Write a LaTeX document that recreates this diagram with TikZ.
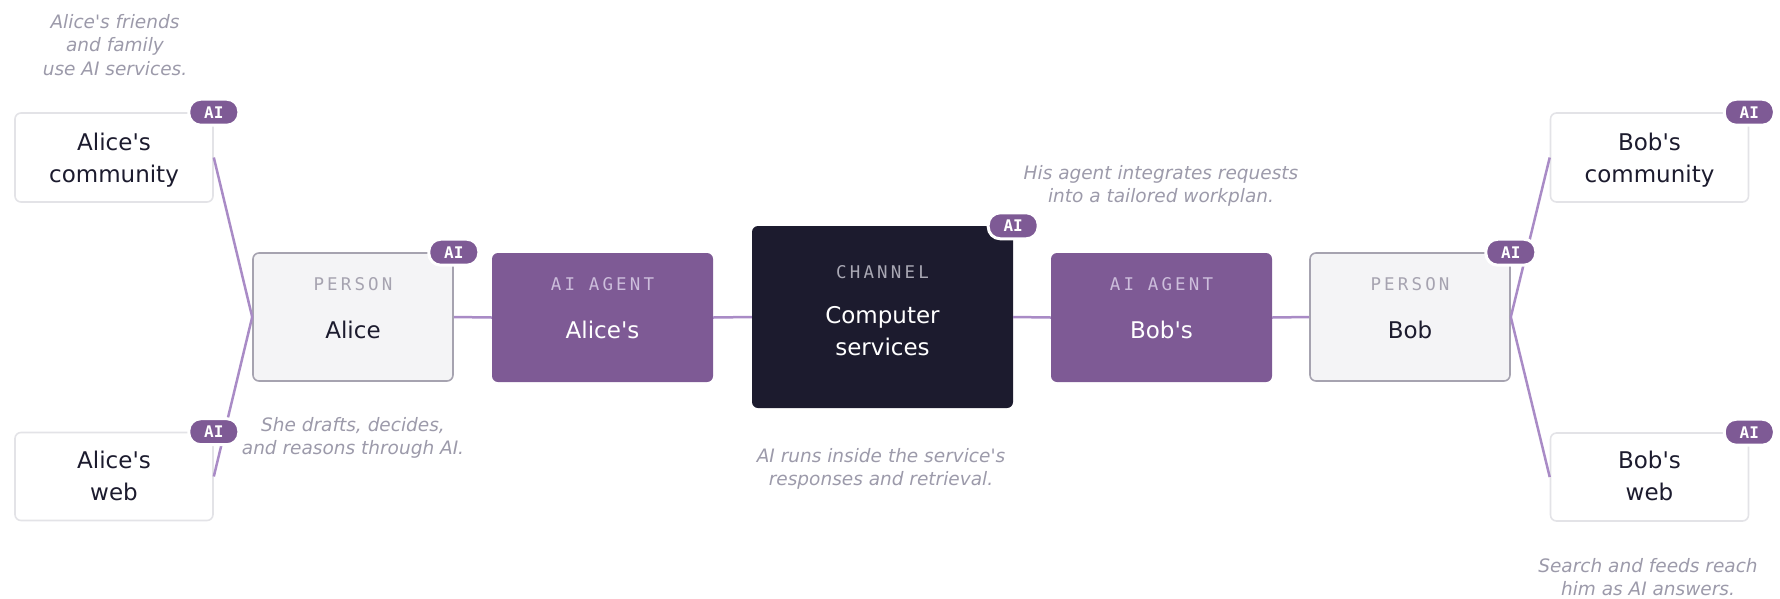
\documentclass[tikz,border=0pt]{standalone}
\usepackage{fontspec}
\setmainfont{DejaVu Sans}[Ligatures=TeXOff]
\newfontfamily\tagfont[LetterSpace=18]{DejaVu Sans Mono}
\newfontfamily\badgefont{DejaVu Sans Mono}
\usetikzlibrary{calc}

\definecolor{agentpurple}{HTML}{7E5A95}
\definecolor{linkpurple}{HTML}{A98BC6}
\definecolor{channeldark}{HTML}{1C1B2E}
\definecolor{personfill}{HTML}{F4F4F6}
\definecolor{persongray}{HTML}{A6A3B0}
\definecolor{edgegray}{HTML}{E3E3E7}
\definecolor{notegray}{HTML}{9C9AAA}
\definecolor{inkdark}{HTML}{1C1B2E}
\definecolor{agenttag}{HTML}{CDBEDC}
\definecolor{channeltag}{HTML}{A9A8B4}

\begin{document}
\begin{tikzpicture}[x=1pt,y=-1pt]
\tikzstyle{box} = [rectangle, rounded corners=6pt, inner sep=0pt, minimum width=200pt, minimum height=128pt]
\tikzstyle{personbox} = [box, fill=personfill, draw=persongray, line width=1.6pt]
\tikzstyle{agentbox} = [box, fill=agentpurple, minimum width=221pt, minimum height=129pt]
\tikzstyle{channelbox} = [box, fill=channeldark, minimum width=261pt, minimum height=182pt]
\tikzstyle{sidebox} = [box, fill=white, draw=edgegray, line width=1.6pt, minimum width=198pt, minimum height=88pt]
\tikzstyle{boxtag} = [anchor=base, font=\tagfont\fontsize{17.5}{20}\selectfont]
\tikzstyle{boxname} = [anchor=base, text=inkdark, font=\fontsize{23}{32}\selectfont]
\tikzstyle{sidenote} = [align=center, text=notegray, font=\itshape\fontsize{18.5}{23.5}\selectfont]
\tikzstyle{badge} = [rectangle, rounded corners=12pt, fill=agentpurple, draw=white, line width=3pt,
    minimum width=50pt, minimum height=26pt, inner sep=0pt, text=white,
    font=\badgefont\bfseries\fontsize{16}{16}\selectfont]
\tikzstyle{link} = [draw=linkpurple, line width=2.5pt]

\useasboundingbox (0,0) rectangle (1780,598);

% boxes
\node[sidebox, minimum height=89pt] (acom) at (114,157.5) {};
\node[sidebox] (aweb) at (114,476.5) {};
\node[personbox] (alice) at (353,317) {};
\node[agentbox] (aagent) at (602.5,317.5) {};
\node[channelbox] (chan) at (882.5,317) {};
\node[agentbox] (bagent) at (1161.5,317.5) {};
\node[personbox] (bob) at (1410,317) {};
\node[sidebox, minimum height=89pt] (bcom) at (1649.5,157.5) {};
\node[sidebox] (bweb) at (1649.5,477) {};

% links
\draw[link] (alice.west) -- (acom.east);
\draw[link] (alice.west) -- (aweb.east);
\draw[link] (alice.east) -- (aagent.west);
\draw[link] (aagent.east) -- (chan.west);
\draw[link] (chan.east) -- (bagent.west);
\draw[link] (bagent.east) -- (bob.west);
\draw[link] (bob.east) -- (bcom.west);
\draw[link] (bob.east) -- (bweb.west);

% box texts
\node[boxname] (acom1) at ($(acom.center)+(0,-7.5)$) {Alice's};
\node[boxname] (acom2) at ($(acom.center)+(0,24.5)$) {community};
\node[boxname] (aweb1) at ($(aweb.center)+(0,-8.5)$) {Alice's};
\node[boxname] (aweb2) at ($(aweb.center)+(0,23.5)$) {web};

\node[boxtag, text=persongray] (alicetag) at ($(alice.center)+(0,-27)$) {PERSON};
\node[boxname] (alicename) at ($(alice.center)+(0,21)$) {Alice};
\node[boxtag, text=agenttag] (aagenttag) at ($(aagent.center)+(0,-27.5)$) {AI AGENT};
\node[boxname, text=white] (aagentname) at ($(aagent.center)+(0,20.5)$) {Alice's};

\node[boxtag, text=channeltag] (chantag) at ($(chan.center)+(0,-39)$) {CHANNEL};
\node[boxname, text=white] (chan1) at ($(chan.center)+(0,6)$) {Computer};
\node[boxname, text=white] (chan2) at ($(chan.center)+(0,38)$) {services};

\node[boxtag, text=agenttag] (bagenttag) at ($(bagent.center)+(0,-27.5)$) {AI AGENT};
\node[boxname, text=white] (bagentname) at ($(bagent.center)+(0,20.5)$) {Bob's};
\node[boxtag, text=persongray] (bobtag) at ($(bob.center)+(0,-27)$) {PERSON};
\node[boxname] (bobname) at ($(bob.center)+(0,21)$) {Bob};

\node[boxname] (bcom1) at ($(bcom.center)+(0,-7.5)$) {Bob's};
\node[boxname] (bcom2) at ($(bcom.center)+(0,24.5)$) {community};
\node[boxname] (bweb1) at ($(bweb.center)+(0,-8.5)$) {Bob's};
\node[boxname] (bweb2) at ($(bweb.center)+(0,23.5)$) {web};

% notes
\node[sidenote] (acomnote) at (115,45) {Alice's friends\\and family\\use AI services.};
\node[sidenote] (alicenote) at (353,438) {She drafts, decides,\\and reasons through AI.};
\node[sidenote] (channote) at (881,469) {AI runs inside the service's\\responses and retrieval.};
\node[sidenote] (bagentnote) at (1161,186) {His agent integrates requests\\into a tailored workplan.};
\node[sidenote] (bwebnote) at (1648,577) {Search and feeds reach\\him as AI answers.};

% AI badges
\node[badge] (acombadge) at (acom.north east) {AI};
\node[badge] (awebbadge) at (aweb.north east) {AI};
\node[badge] (alicebadge) at (alice.north east) {AI};
\node[badge] (chanbadge) at (chan.north east) {AI};
\node[badge] (bobbadge) at (bob.north east) {AI};
\node[badge] (bcombadge) at (bcom.north east) {AI};
\node[badge] (bwebbadge) at (bweb.north east) {AI};
\end{tikzpicture}
\end{document}
